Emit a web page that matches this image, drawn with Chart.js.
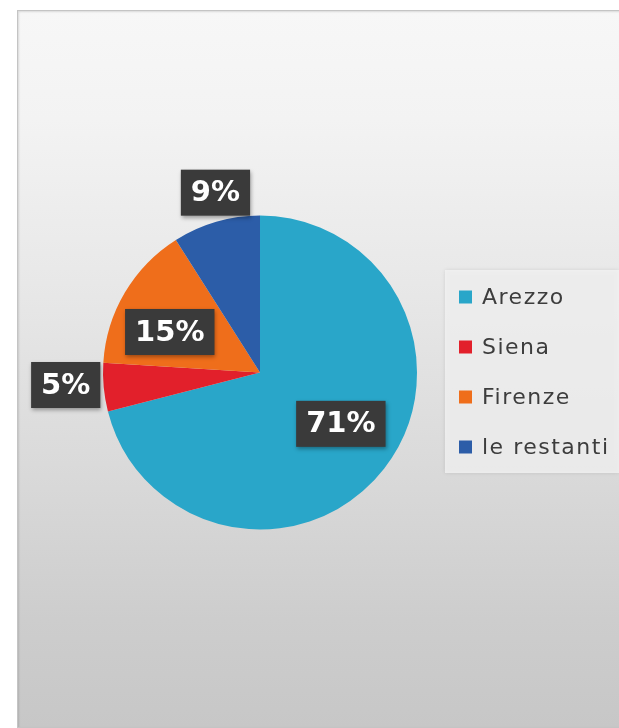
<!DOCTYPE html>
<html>
<head>
<meta charset="utf-8">
<script src="https://cdn.jsdelivr.net/npm/chart.js@4"></script>
<style>
  html, body { margin: 0; padding: 0; background: #ffffff; }
  #wrap { position: relative; width: 619px; height: 728px; overflow: hidden; }
  #panel {
    position: absolute; left: 17px; top: 10px; width: 610px; height: 716px;
    border: 1px solid #c4c4c4; box-shadow: inset 1px 1px 2px rgba(0,0,0,0.12);
    background: linear-gradient(to bottom, #f7f7f7 0%, #f3f3f3 15%, #e7e7e7 40%, #d9d9d9 65%, #cdcdcd 85%, #c7c7c7 100%);
  }
  canvas { position: absolute; left: 0; top: 0; }
</style>
</head>
<body>
<div id="wrap">
  <div id="panel"></div>
  <canvas id="c" width="619" height="728"></canvas>
</div>
<script>
const categories = ["Arezzo", "Siena", "Firenze", "le restanti"];
const shares = [71, 5, 15, 9];
const valueLabels = ["71%", "5%", "15%", "9%"];
const sliceColors = ["#29a6c9", "#e2202b", "#ef6e1b", "#2c5da8"];

const labelBoxes = {
  id: 'labelBoxes',
  afterDatasetsDraw(chart, args, opts) {
    const ctx = chart.ctx;
    const meta = chart.getDatasetMeta(0);
    ctx.save();
    ctx.font = opts.font;
    ctx.textAlign = 'center';
    ctx.textBaseline = 'middle';
    meta.data.forEach((arc, i) => {
      const p = arc.getProps(['x', 'y', 'startAngle', 'endAngle', 'outerRadius'], true);
      const mid = (p.startAngle + p.endAngle) / 2 + (opts.angleShift[i] || 0);
      const r = p.outerRadius * opts.radiusFactor[i];
      const cx = p.x + Math.cos(mid) * r;
      const cy = p.y + Math.sin(mid) * r;
      const txt = chart.data.datasets[0].valueLabels[i];
      const w = ctx.measureText(txt).width + opts.padX * 2;
      const h = opts.boxH;
      ctx.shadowColor = 'rgba(0,0,0,0.35)';
      ctx.shadowBlur = 4;
      ctx.shadowOffsetX = 1;
      ctx.shadowOffsetY = 2;
      ctx.fillStyle = '#3a3a3a';
      ctx.fillRect(cx - w / 2, cy - h / 2, w, h);
      ctx.shadowColor = 'transparent';
      ctx.fillStyle = '#ffffff';
      ctx.fillText(txt, cx, cy + 1);
    });
    ctx.restore();
  }
};

const sideLegend = {
  id: 'sideLegend',
  afterDraw(chart, args, opts) {
    const ctx = chart.ctx;
    const ds = chart.data.datasets[0];
    ctx.save();
    ctx.shadowColor = 'rgba(0,0,0,0.12)';
    ctx.shadowBlur = 4;
    ctx.fillStyle = 'rgba(242,242,242,0.8)';
    ctx.fillRect(opts.x, opts.y, opts.w, opts.h);
    ctx.shadowColor = 'transparent';
    ctx.font = opts.font;
    if ('letterSpacing' in ctx) ctx.letterSpacing = '1.5px';
    ctx.textBaseline = 'middle';
    ctx.textAlign = 'left';
    chart.data.labels.forEach((lab, i) => {
      const cy = opts.firstY + i * opts.step;
      ctx.fillStyle = ds.backgroundColor[i];
      ctx.fillRect(opts.boxX, cy - 6.5, 13, 13);
      ctx.fillStyle = '#3d3d3d';
      ctx.fillText(lab, opts.textX, cy + 1);
    });
    ctx.restore();
  }
};

new Chart(document.getElementById('c'), {
  type: 'pie',
  data: {
    labels: categories,
    datasets: [{
      data: shares,
      valueLabels: valueLabels,
      backgroundColor: sliceColors,
      borderWidth: 0,
      hoverOffset: 0
    }]
  },
  options: {
    responsive: false,
    animation: false,
    layout: { padding: { left: 103, right: 202, top: 215, bottom: 198 } },
    plugins: {
      legend: { display: false },
      tooltip: { enabled: false },
      labelBoxes: {
        font: 'bold 29px "DejaVu Sans"',
        padX: 10,
        boxH: 46,
        radiusFactor: [0.61, 1.24, 0.63, 1.18],
        angleShift: [-0.094, 0.03, -0.112, 0.04]
      },
      sideLegend: {
        x: 445, y: 270, w: 174, h: 203,
        boxX: 459, textX: 482,
        firstY: 297, step: 50,
        font: '22px "DejaVu Sans"'
      }
    }
  },
  plugins: [labelBoxes, sideLegend]
});
</script>
</body>
</html>
